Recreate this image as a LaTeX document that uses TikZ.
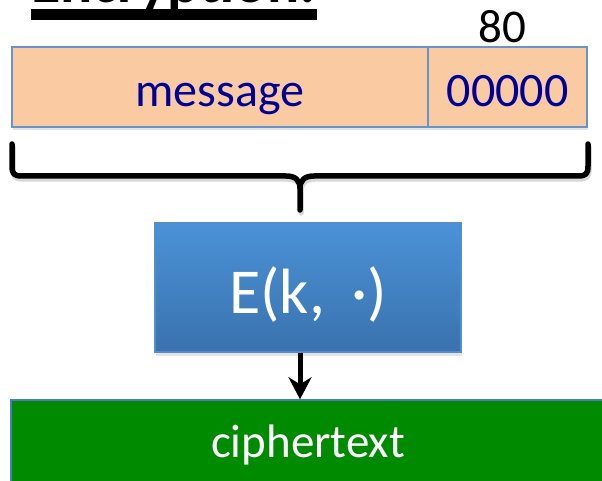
\documentclass[tikz,border=0pt]{standalone}
\usepackage{fontspec}
\setmainfont{Carlito}
\usetikzlibrary{arrows.meta,shadows,calc}
\definecolor{peach}{RGB}{250,203,163}
\definecolor{peachborder}{RGB}{104,148,204}
\definecolor{navytext}{RGB}{0,0,150}
\definecolor{etop}{RGB}{74,146,215}
\definecolor{ebottom}{RGB}{58,114,174}
\definecolor{eborder}{RGB}{85,140,205}
\definecolor{cgreen}{RGB}{0,138,0}
\definecolor{cborder}{RGB}{70,125,195}
\begin{document}
\begin{tikzpicture}[x=1pt,y=1pt,
  softshadow/.style={drop shadow={opacity=0.22, shadow xshift=1pt, shadow yshift=-3.5pt}},
  fieldbox/.style={draw=peachborder, line width=1.4pt, fill=peach, text=navytext,
    inner sep=0pt, minimum height=80pt, text height=40pt, text depth=0pt,
    font=\fontsize{48pt}{48pt}\selectfont, softshadow},
  ebox/.style={draw=eborder, line width=1.2pt, top color=etop, bottom color=ebottom,
    text=white, inner sep=0pt, minimum width=306pt, minimum height=129pt,
    text height=51pt, text depth=0pt, font=\fontsize{64pt}{64pt}\selectfont, softshadow},
  cbox/.style={draw=cborder, line width=1.4pt, fill=cgreen, text=white,
    inner sep=0pt, minimum width=594pt, minimum height=90pt,
    text height=24pt, text depth=0pt, font=\fontsize{47pt}{47pt}\selectfont},
  bracestyle/.style={line width=5.5pt, line cap=round, line join=round},
  arrowline/.style={line width=5pt, -{Stealth[length=22pt, width=23pt, inset=7pt]}},
  lengthlabel/.style={font=\fontsize{47pt}{47pt}\selectfont, inner sep=0pt, anchor=base},
  titlestyle/.style={font=\bfseries\fontsize{60pt}{60pt}\selectfont, inner sep=0pt, anchor=base west}
]
\useasboundingbox (0,0) rectangle (602,480);
\clip (0,0) rectangle (602,480);

% title (cut off at top, as in the reference)
\node[titlestyle] (title) at (31,477) {Encryption:};
\fill ($(title.base west)+(0,-17.5)$) rectangle (317,470.5);

% message fields
\node[fieldbox, minimum width=416pt] (msg) at (220,393) {message};
\node[fieldbox, minimum width=159pt] (pad) at (507.5,393) {00000};
\node[lengthlabel] (len) at (502,437) {80};

% brace
\coordinate (bl) at (12,336);
\coordinate (br) at (588,336);
\coordinate (tip) at (300,270);
\begin{scope}[transform canvas={xshift=1pt, yshift=-3pt}]
\draw[bracestyle, black!15] (bl) -- (12,314) .. controls (12,306) and (14,304) .. (22,304) -- (286,304)
  .. controls (295,304) and (300,300) .. (300,292) -- (tip);
\draw[bracestyle, black!15] (br) -- (588,314) .. controls (588,306) and (586,304) .. (578,304) -- (314,304)
  .. controls (305,304) and (300,300) .. (300,292);
\end{scope}
\draw[bracestyle] (bl) -- (12,314) .. controls (12,306) and (14,304) .. (22,304) -- (286,304)
  .. controls (295,304) and (300,300) .. (300,292) -- (tip);
\draw[bracestyle] (br) -- (588,314) .. controls (588,306) and (586,304) .. (578,304) -- (314,304)
  .. controls (305,304) and (300,300) .. (300,292);

% encryption box
\node[ebox] (E) at (308,192.5) {E(k,\hspace{26pt}·)};

% ciphertext
\node[cbox] (C) at (308,35) {ciphertext};

% arrow
\draw[arrowline] (E.south -| tip) -- (C.north -| tip);
\end{tikzpicture}
\end{document}
